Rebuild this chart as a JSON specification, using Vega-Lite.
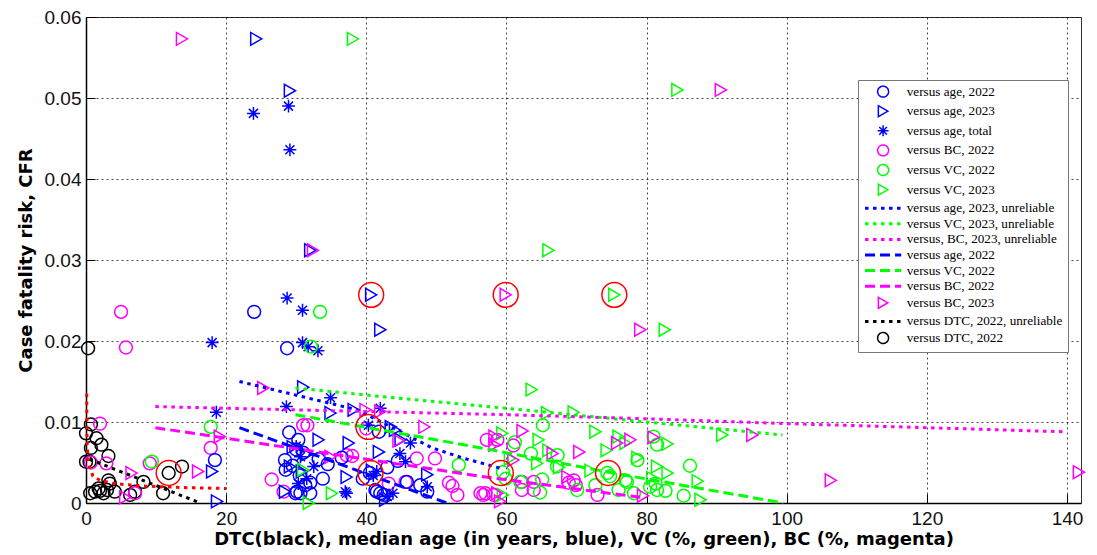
{
  "$schema": "https://vega.github.io/schema/vega-lite/v6.json",
  "width": 995,
  "height": 486,
  "autosize": {"type": "none"},
  "padding": {"left": 86, "top": 17, "right": 16, "bottom": 52},
  "background": "white",
  "config": {
    "view": {"stroke": "#333", "strokeWidth": 1},
    "axis": {
      "grid": true, "gridColor": "#000", "gridDash": [2, 3], "gridWidth": 0.8, "gridOpacity": 0.9,
      "domainColor": "#000", "domainWidth": 1.5,
      "tickColor": "#000", "tickSize": -9, "tickWidth": 1, "labelFlush": false,
      "labelFont": "Liberation Sans", "labelFontSize": 19, "labelColor": "#111",
      "titleFont": "DejaVu Sans", "titleFontWeight": "bold", "titleFontSize": 18, "titleColor": "#000"
    },
    "legend": {
      "orient": "none", "legendX": 772, "legendY": 63,
      "padding": 5, "fillColor": "white", "strokeColor": "#777",
      "labelFont": "Liberation Serif", "labelFontSize": 13.2, "labelColor": "#000", "labelLimit": 300,
      "symbolSize": 120, "symbolStrokeWidth": 1.5, "symbolOffset": 13.5, "labelOffset": 17,
      "rowPadding": 1.6
    }
  },
  "datasets": {
    "pts": [
      {"s": "versus DTC, 2022", "x": 0.3, "y": 0.0191}, {"s": "versus DTC, 2022", "x": 0.7, "y": 0.0097},
      {"s": "versus DTC, 2022", "x": 0.0, "y": 0.0086}, {"s": "versus DTC, 2022", "x": 1.5, "y": 0.0080},
      {"s": "versus DTC, 2022", "x": 2.2, "y": 0.0072}, {"s": "versus DTC, 2022", "x": 0.7, "y": 0.0068},
      {"s": "versus DTC, 2022", "x": 3.2, "y": 0.0058}, {"s": "versus DTC, 2022", "x": 0.0, "y": 0.0051},
      {"s": "versus DTC, 2022", "x": 0.5, "y": 0.0051}, {"s": "versus DTC, 2022", "x": 3.4, "y": 0.0024},
      {"s": "versus DTC, 2022", "x": 0.6, "y": 0.0012}, {"s": "versus DTC, 2022", "x": 1.3, "y": 0.0014},
      {"s": "versus DTC, 2022", "x": 2.0, "y": 0.0015}, {"s": "versus DTC, 2022", "x": 2.5, "y": 0.0012},
      {"s": "versus DTC, 2022", "x": 3.0, "y": 0.0016}, {"s": "versus DTC, 2022", "x": 4.1, "y": 0.0014},
      {"s": "versus DTC, 2022", "x": 6.3, "y": 0.0010}, {"s": "versus DTC, 2022", "x": 7.0, "y": 0.0014},
      {"s": "versus DTC, 2022", "x": 8.2, "y": 0.0026}, {"s": "versus DTC, 2022", "x": 11.0, "y": 0.0012},
      {"s": "versus DTC, 2022", "x": 11.8, "y": 0.0037}, {"s": "versus DTC, 2022", "x": 13.7, "y": 0.0045},
      {"s": "versus DTC, 2022", "x": 1.8, "y": 0.0018}, {"s": "versus DTC, 2022", "x": 3.2, "y": 0.0028},

      {"s": "versus BC, 2022", "x": 5.0, "y": 0.0236}, {"s": "versus BC, 2022", "x": 5.7, "y": 0.0192},
      {"s": "versus BC, 2022", "x": 2.0, "y": 0.0098}, {"s": "versus BC, 2022", "x": 2.9, "y": 0.0049},
      {"s": "versus BC, 2022", "x": 9.1, "y": 0.0049}, {"s": "versus BC, 2022", "x": 17.8, "y": 0.0068},
      {"s": "versus BC, 2022", "x": 7.0, "y": 0.0012}, {"s": "versus BC, 2022", "x": 0.7, "y": 0.0050},
      {"s": "versus BC, 2022", "x": 26.5, "y": 0.0029}, {"s": "versus BC, 2022", "x": 28.2, "y": 0.0014},
      {"s": "versus BC, 2022", "x": 31.0, "y": 0.0096}, {"s": "versus BC, 2022", "x": 31.6, "y": 0.0096},
      {"s": "versus BC, 2022", "x": 37.2, "y": 0.0059}, {"s": "versus BC, 2022", "x": 38.0, "y": 0.0058},
      {"s": "versus BC, 2022", "x": 47.2, "y": 0.0055}, {"s": "versus BC, 2022", "x": 49.8, "y": 0.0055},
      {"s": "versus BC, 2022", "x": 43.2, "y": 0.0024}, {"s": "versus BC, 2022", "x": 45.6, "y": 0.0026},
      {"s": "versus BC, 2022", "x": 51.8, "y": 0.0025}, {"s": "versus BC, 2022", "x": 52.3, "y": 0.0021},
      {"s": "versus BC, 2022", "x": 53.0, "y": 0.0010}, {"s": "versus BC, 2022", "x": 56.3, "y": 0.0012},
      {"s": "versus BC, 2022", "x": 57.0, "y": 0.0012}, {"s": "versus BC, 2022", "x": 57.2, "y": 0.0078},
      {"s": "versus BC, 2022", "x": 58.7, "y": 0.0078}, {"s": "versus BC, 2022", "x": 61.0, "y": 0.0071},
      {"s": "versus BC, 2022", "x": 62.2, "y": 0.0026}, {"s": "versus BC, 2022", "x": 63.9, "y": 0.0026},
      {"s": "versus BC, 2022", "x": 62.2, "y": 0.0016}, {"s": "versus BC, 2022", "x": 63.9, "y": 0.0016},
      {"s": "versus BC, 2022", "x": 68.9, "y": 0.0025}, {"s": "versus BC, 2022", "x": 69.6, "y": 0.0028},
      {"s": "versus BC, 2022", "x": 69.9, "y": 0.0022}, {"s": "versus BC, 2022", "x": 73.0, "y": 0.0010},
      {"s": "versus BC, 2022", "x": 56.7, "y": 0.0010}, {"s": "versus BC, 2022", "x": 58.2, "y": 0.0010},
      {"s": "versus BC, 2022", "x": 40.0, "y": 0.0092},

      {"s": "versus age, 2022", "x": 24.0, "y": 0.0236}, {"s": "versus age, 2022", "x": 28.7, "y": 0.0191},
      {"s": "versus age, 2022", "x": 18.4, "y": 0.0053}, {"s": "versus age, 2022", "x": 29.0, "y": 0.0087},
      {"s": "versus age, 2022", "x": 30.3, "y": 0.0078}, {"s": "versus age, 2022", "x": 28.4, "y": 0.0053},
      {"s": "versus age, 2022", "x": 28.5, "y": 0.0041}, {"s": "versus age, 2022", "x": 30.1, "y": 0.0014},
      {"s": "versus age, 2022", "x": 29.9, "y": 0.0012}, {"s": "versus age, 2022", "x": 30.6, "y": 0.0012},
      {"s": "versus age, 2022", "x": 31.3, "y": 0.0022}, {"s": "versus age, 2022", "x": 32.0, "y": 0.0025},
      {"s": "versus age, 2022", "x": 32.0, "y": 0.0012}, {"s": "versus age, 2022", "x": 33.2, "y": 0.0054},
      {"s": "versus age, 2022", "x": 41.8, "y": 0.0088}, {"s": "versus age, 2022", "x": 41.3, "y": 0.0016},
      {"s": "versus age, 2022", "x": 42.0, "y": 0.0012}, {"s": "versus age, 2022", "x": 42.5, "y": 0.0010},
      {"s": "versus age, 2022", "x": 45.8, "y": 0.0026}, {"s": "versus age, 2022", "x": 47.7, "y": 0.0022},
      {"s": "versus age, 2022", "x": 48.7, "y": 0.0014}, {"s": "versus age, 2022", "x": 41.5, "y": 0.0014},
      {"s": "versus age, 2022", "x": 31.0, "y": 0.0062}, {"s": "versus age, 2022", "x": 30.0, "y": 0.0066},
      {"s": "versus age, 2022", "x": 34.5, "y": 0.0048}, {"s": "versus age, 2022", "x": 40.5, "y": 0.0037},
      {"s": "versus age, 2022", "x": 39.5, "y": 0.0030}, {"s": "versus age, 2022", "x": 44.5, "y": 0.0052},
      {"s": "versus age, 2022", "x": 43.0, "y": 0.0044}, {"s": "versus age, 2022", "x": 36.5, "y": 0.0056},
      {"s": "versus age, 2022", "x": 33.8, "y": 0.0030}, {"s": "versus age, 2022", "x": 30.5, "y": 0.0034},
      {"s": "versus age, 2022", "x": 29.5, "y": 0.0046},

      {"s": "versus age, 2023", "x": 24.3, "y": 0.0573}, {"s": "versus age, 2023", "x": 29.1, "y": 0.0509},
      {"s": "versus age, 2023", "x": 32.0, "y": 0.0312}, {"s": "versus age, 2023", "x": 40.7, "y": 0.0257},
      {"s": "versus age, 2023", "x": 42.0, "y": 0.0214}, {"s": "versus age, 2023", "x": 18.0, "y": 0.0039},
      {"s": "versus age, 2023", "x": 18.7, "y": 0.0002}, {"s": "versus age, 2023", "x": 31.0, "y": 0.0143},
      {"s": "versus age, 2023", "x": 34.9, "y": 0.0111}, {"s": "versus age, 2023", "x": 33.2, "y": 0.0078},
      {"s": "versus age, 2023", "x": 37.5, "y": 0.0074}, {"s": "versus age, 2023", "x": 38.2, "y": 0.0115},
      {"s": "versus age, 2023", "x": 44.1, "y": 0.0090}, {"s": "versus age, 2023", "x": 41.8, "y": 0.0063},
      {"s": "versus age, 2023", "x": 37.2, "y": 0.0032}, {"s": "versus age, 2023", "x": 29.1, "y": 0.0045},
      {"s": "versus age, 2023", "x": 28.4, "y": 0.0014}, {"s": "versus age, 2023", "x": 42.7, "y": 0.0004},
      {"s": "versus age, 2023", "x": 48.7, "y": 0.0035}, {"s": "versus age, 2023", "x": 44.9, "y": 0.0078},
      {"s": "versus age, 2023", "x": 40.8, "y": 0.0040}, {"s": "versus age, 2023", "x": 43.5, "y": 0.0094},
      {"s": "versus age, 2023", "x": 29.5, "y": 0.0069}, {"s": "versus age, 2023", "x": 31.5, "y": 0.0060},
      {"s": "versus age, 2023", "x": 30.8, "y": 0.0039},

      {"s": "versus age, total", "x": 23.9, "y": 0.0481}, {"s": "versus age, total", "x": 28.9, "y": 0.0490},
      {"s": "versus age, total", "x": 29.1, "y": 0.0436}, {"s": "versus age, total", "x": 28.7, "y": 0.0253},
      {"s": "versus age, total", "x": 30.9, "y": 0.0238}, {"s": "versus age, total", "x": 18.0, "y": 0.0198},
      {"s": "versus age, total", "x": 30.9, "y": 0.0198}, {"s": "versus age, total", "x": 31.7, "y": 0.0193},
      {"s": "versus age, total", "x": 33.1, "y": 0.0188}, {"s": "versus age, total", "x": 18.6, "y": 0.0112},
      {"s": "versus age, total", "x": 28.6, "y": 0.0119}, {"s": "versus age, total", "x": 34.9, "y": 0.0130},
      {"s": "versus age, total", "x": 42.0, "y": 0.0117}, {"s": "versus age, total", "x": 40.3, "y": 0.0096},
      {"s": "versus age, total", "x": 45.6, "y": 0.0051}, {"s": "versus age, total", "x": 46.3, "y": 0.0074},
      {"s": "versus age, total", "x": 30.6, "y": 0.0057}, {"s": "versus age, total", "x": 31.5, "y": 0.0030},
      {"s": "versus age, total", "x": 37.0, "y": 0.0014}, {"s": "versus age, total", "x": 41.5, "y": 0.0039},
      {"s": "versus age, total", "x": 48.7, "y": 0.0020}, {"s": "versus age, total", "x": 43.0, "y": 0.0008},
      {"s": "versus age, total", "x": 30.3, "y": 0.0024}, {"s": "versus age, total", "x": 37.2, "y": 0.0012},
      {"s": "versus age, total", "x": 30.0, "y": 0.0070}, {"s": "versus age, total", "x": 41.0, "y": 0.0034},
      {"s": "versus age, total", "x": 43.8, "y": 0.0012}, {"s": "versus age, total", "x": 32.5, "y": 0.0045},
      {"s": "versus age, total", "x": 44.8, "y": 0.0061},

      {"s": "versus VC, 2022", "x": 33.4, "y": 0.0236}, {"s": "versus VC, 2022", "x": 32.1, "y": 0.0193},
      {"s": "versus VC, 2022", "x": 17.8, "y": 0.0094}, {"s": "versus VC, 2022", "x": 9.4, "y": 0.0051},
      {"s": "versus VC, 2022", "x": 53.2, "y": 0.0047}, {"s": "versus VC, 2022", "x": 65.2, "y": 0.0096},
      {"s": "versus VC, 2022", "x": 61.2, "y": 0.0075}, {"s": "versus VC, 2022", "x": 63.5, "y": 0.0061},
      {"s": "versus VC, 2022", "x": 67.3, "y": 0.0059}, {"s": "versus VC, 2022", "x": 65.1, "y": 0.0029},
      {"s": "versus VC, 2022", "x": 62.0, "y": 0.0026}, {"s": "versus VC, 2022", "x": 64.8, "y": 0.0013},
      {"s": "versus VC, 2022", "x": 70.1, "y": 0.0016}, {"s": "versus VC, 2022", "x": 72.7, "y": 0.0022},
      {"s": "versus VC, 2022", "x": 74.4, "y": 0.0037}, {"s": "versus VC, 2022", "x": 77.0, "y": 0.0028},
      {"s": "versus VC, 2022", "x": 76.0, "y": 0.0016}, {"s": "versus VC, 2022", "x": 78.2, "y": 0.0012},
      {"s": "versus VC, 2022", "x": 81.3, "y": 0.0024}, {"s": "versus VC, 2022", "x": 81.5, "y": 0.0016},
      {"s": "versus VC, 2022", "x": 82.7, "y": 0.0015}, {"s": "versus VC, 2022", "x": 85.3, "y": 0.0009},
      {"s": "versus VC, 2022", "x": 86.2, "y": 0.0046}, {"s": "versus VC, 2022", "x": 81.0, "y": 0.0082},
      {"s": "versus VC, 2022", "x": 81.5, "y": 0.0072}, {"s": "versus VC, 2022", "x": 78.7, "y": 0.0053},
      {"s": "versus VC, 2022", "x": 59.9, "y": 0.0030}, {"s": "versus VC, 2022", "x": 67.2, "y": 0.0045},
      {"s": "versus VC, 2022", "x": 77.2, "y": 0.0026}, {"s": "versus VC, 2022", "x": 59.5, "y": 0.0038},
      {"s": "versus VC, 2022", "x": 74.8, "y": 0.0033}, {"s": "versus VC, 2022", "x": 80.5, "y": 0.0020},

      {"s": "versus VC, 2023", "x": 38.1, "y": 0.0573}, {"s": "versus VC, 2023", "x": 84.4, "y": 0.0510},
      {"s": "versus VC, 2023", "x": 66.0, "y": 0.0312}, {"s": "versus VC, 2023", "x": 75.4, "y": 0.0257},
      {"s": "versus VC, 2023", "x": 82.6, "y": 0.0214}, {"s": "versus VC, 2023", "x": 63.6, "y": 0.0140},
      {"s": "versus VC, 2023", "x": 65.8, "y": 0.0111}, {"s": "versus VC, 2023", "x": 69.6, "y": 0.0112},
      {"s": "versus VC, 2023", "x": 72.7, "y": 0.0088}, {"s": "versus VC, 2023", "x": 59.4, "y": 0.0086},
      {"s": "versus VC, 2023", "x": 64.6, "y": 0.0078}, {"s": "versus VC, 2023", "x": 64.4, "y": 0.0049},
      {"s": "versus VC, 2023", "x": 67.5, "y": 0.0044}, {"s": "versus VC, 2023", "x": 74.3, "y": 0.0065},
      {"s": "versus VC, 2023", "x": 76.0, "y": 0.0082}, {"s": "versus VC, 2023", "x": 77.0, "y": 0.0074},
      {"s": "versus VC, 2023", "x": 78.7, "y": 0.0056}, {"s": "versus VC, 2023", "x": 83.0, "y": 0.0073},
      {"s": "versus VC, 2023", "x": 83.0, "y": 0.0037}, {"s": "versus VC, 2023", "x": 87.3, "y": 0.0027},
      {"s": "versus VC, 2023", "x": 87.7, "y": 0.0004}, {"s": "versus VC, 2023", "x": 80.8, "y": 0.0031},
      {"s": "versus VC, 2023", "x": 90.8, "y": 0.0084}, {"s": "versus VC, 2023", "x": 31.0, "y": 0.0041},
      {"s": "versus VC, 2023", "x": 31.8, "y": 0.0000}, {"s": "versus VC, 2023", "x": 35.1, "y": 0.0012},
      {"s": "versus VC, 2023", "x": 60.5, "y": 0.0055}, {"s": "versus VC, 2023", "x": 66.0, "y": 0.0065},
      {"s": "versus VC, 2023", "x": 72.0, "y": 0.0040}, {"s": "versus VC, 2023", "x": 81.5, "y": 0.0045},
      {"s": "versus VC, 2023", "x": 59.5, "y": 0.0010},

      {"s": "versus BC, 2023", "x": 13.7, "y": 0.0573}, {"s": "versus BC, 2023", "x": 90.6, "y": 0.0510},
      {"s": "versus BC, 2023", "x": 32.4, "y": 0.0312}, {"s": "versus BC, 2023", "x": 59.9, "y": 0.0257},
      {"s": "versus BC, 2023", "x": 79.1, "y": 0.0214}, {"s": "versus BC, 2023", "x": 25.3, "y": 0.0142},
      {"s": "versus BC, 2023", "x": 141.7, "y": 0.0038}, {"s": "versus BC, 2023", "x": 106.3, "y": 0.0028},
      {"s": "versus BC, 2023", "x": 95.1, "y": 0.0084}, {"s": "versus BC, 2023", "x": 6.5, "y": 0.0037},
      {"s": "versus BC, 2023", "x": 5.6, "y": 0.0007}, {"s": "versus BC, 2023", "x": 16.0, "y": 0.0039},
      {"s": "versus BC, 2023", "x": 19.1, "y": 0.0082}, {"s": "versus BC, 2023", "x": 39.9, "y": 0.0115},
      {"s": "versus BC, 2023", "x": 42.0, "y": 0.0113}, {"s": "versus BC, 2023", "x": 48.3, "y": 0.0094},
      {"s": "versus BC, 2023", "x": 44.6, "y": 0.0077}, {"s": "versus BC, 2023", "x": 34.9, "y": 0.0057},
      {"s": "versus BC, 2023", "x": 62.3, "y": 0.0089}, {"s": "versus BC, 2023", "x": 58.3, "y": 0.0082},
      {"s": "versus BC, 2023", "x": 58.3, "y": 0.0072}, {"s": "versus BC, 2023", "x": 66.6, "y": 0.0061},
      {"s": "versus BC, 2023", "x": 70.4, "y": 0.0063}, {"s": "versus BC, 2023", "x": 75.8, "y": 0.0074},
      {"s": "versus BC, 2023", "x": 77.7, "y": 0.0078}, {"s": "versus BC, 2023", "x": 81.0, "y": 0.0081},
      {"s": "versus BC, 2023", "x": 68.7, "y": 0.0032}, {"s": "versus BC, 2023", "x": 79.5, "y": 0.0009},
      {"s": "versus BC, 2023", "x": 59.1, "y": 0.0002}, {"s": "versus BC, 2023", "x": 61.0, "y": 0.0053},
      {"s": "versus BC, 2023", "x": 58.7, "y": 0.0012}
    ],
    "lines": [
      {"s": "versus age, 2023, unreliable", "x": 21.9, "y": 0.0150},
      {"s": "versus age, 2023, unreliable", "x": 38.7, "y": 0.0115},
      {"s": "versus age, 2023, unreliable", "x": 44.0, "y": 0.0092},
      {"s": "versus age, 2023, unreliable", "x": 49.4, "y": 0.0068},
      {"s": "versus age, 2023, unreliable", "x": 54.0, "y": 0.0055},
      {"s": "versus age, 2023, unreliable", "x": 59.1, "y": 0.0043},
      {"s": "versus VC, 2023, unreliable", "x": 29.9, "y": 0.0142},
      {"s": "versus VC, 2023, unreliable", "x": 45.0, "y": 0.0129},
      {"s": "versus VC, 2023, unreliable", "x": 60.0, "y": 0.0117},
      {"s": "versus VC, 2023, unreliable", "x": 80.0, "y": 0.0100},
      {"s": "versus VC, 2023, unreliable", "x": 99.4, "y": 0.0084},
      {"s": "versus, BC, 2023, unreliable", "x": 9.9, "y": 0.0119},
      {"s": "versus, BC, 2023, unreliable", "x": 40.0, "y": 0.0113},
      {"s": "versus, BC, 2023, unreliable", "x": 60.0, "y": 0.0109},
      {"s": "versus, BC, 2023, unreliable", "x": 80.0, "y": 0.0104},
      {"s": "versus, BC, 2023, unreliable", "x": 100.0, "y": 0.0098},
      {"s": "versus, BC, 2023, unreliable", "x": 120.0, "y": 0.0093},
      {"s": "versus, BC, 2023, unreliable", "x": 139.4, "y": 0.0088},
      {"s": "versus age, 2022|fit", "x": 21.9, "y": 0.0093},
      {"s": "versus age, 2022|fit", "x": 51.5, "y": 0.0},
      {"s": "versus VC, 2022|fit", "x": 29.9, "y": 0.0109},
      {"s": "versus VC, 2022|fit", "x": 56.4, "y": 0.0068},
      {"s": "versus VC, 2022|fit", "x": 75.2, "y": 0.0037},
      {"s": "versus VC, 2022|fit", "x": 99.5, "y": 0.0},
      {"s": "versus BC, 2022|fit", "x": 9.9, "y": 0.0093},
      {"s": "versus BC, 2022|fit", "x": 56.3, "y": 0.0033},
      {"s": "versus BC, 2022|fit", "x": 79.1, "y": 0.0007},
      {"s": "versus DTC, 2022, unreliable", "x": 0.5, "y": 0.0054},
      {"s": "versus DTC, 2022, unreliable", "x": 16.3, "y": 0.0}
    ],
    "redcircles": [
      {"x": 11.8, "y": 0.0037}, {"x": 40.7, "y": 0.0257}, {"x": 59.9, "y": 0.0257},
      {"x": 75.4, "y": 0.0257}, {"x": 40.3, "y": 0.0094}, {"x": 40.6, "y": 0.0037},
      {"x": 59.2, "y": 0.0037}, {"x": 74.5, "y": 0.0037}
    ],
    "redline": [
      {"x": 0.1, "y": 0.0135}, {"x": 0.15, "y": 0.0075}, {"x": 0.3, "y": 0.0050},
      {"x": 1.0, "y": 0.0033}, {"x": 2.0, "y": 0.0028}, {"x": 4.0, "y": 0.0024},
      {"x": 8.0, "y": 0.0021}, {"x": 14.0, "y": 0.0019}, {"x": 20.0, "y": 0.0018}
    ]
  },
  "encoding": {
    "x": {
      "field": "x", "type": "quantitative",
      "scale": {"domain": [0, 142], "nice": false, "zero": false},
      "axis": {
        "title": "DTC(black), median age (in years, blue), VC (%, green), BC (%, magenta)",
        "values": [0, 20, 40, 60, 80, 100, 120, 140], "format": "d",
        "labelPadding": 15, "titlePadding": 2
      }
    },
    "y": {
      "field": "y", "type": "quantitative",
      "scale": {"domain": [0, 0.06], "nice": false, "zero": false},
      "axis": {
        "title": "Case fatality risk, CFR",
        "values": [0, 0.01, 0.02, 0.03, 0.04, 0.05, 0.06], "format": ".2~f",
        "labelPadding": 14, "titlePadding": 9
      }
    }
  },
  "layer": [
    {
      "data": {"name": "pts"},
      "mark": {"type": "point", "filled": false, "size": 165, "strokeWidth": 1.5, "opacity": 1},
      "encoding": {
        "color": {
          "field": "s", "type": "nominal",
          "scale": {
            "domain": ["versus age, 2022", "versus age, 2023", "versus age, total", "versus BC, 2022", "versus VC, 2022", "versus VC, 2023", "versus age, 2023, unreliable", "versus VC, 2023, unreliable", "versus, BC, 2023, unreliable", "versus age, 2022|fit", "versus VC, 2022|fit", "versus BC, 2022|fit", "versus BC, 2023", "versus DTC, 2022, unreliable", "versus DTC, 2022"],
            "range": ["#0000ff", "#0000ff", "#0000ff", "#ff00ff", "#00ff00", "#00ff00", "#0000ff", "#00ff00", "#ff00ff", "#0000ff", "#00ff00", "#ff00ff", "#ff00ff", "#000000", "#000000"]
          },
          "legend": {
            "title": null, "labelExpr": "split(datum.label, '|')[0]",
            "encode": {"symbols": {"update": {"strokeWidth": {"signal": "indexof('' + datum.value, 'unreliable') >= 0 || indexof('' + datum.value, '|') >= 0 ? 3 : 1.5"}}}}
          }
        },
        "shape": {
          "field": "s", "type": "nominal",
          "scale": {
            "domain": ["versus age, 2022", "versus age, 2023", "versus age, total", "versus BC, 2022", "versus VC, 2022", "versus VC, 2023", "versus age, 2023, unreliable", "versus VC, 2023, unreliable", "versus, BC, 2023, unreliable", "versus age, 2022|fit", "versus VC, 2022|fit", "versus BC, 2022|fit", "versus BC, 2023", "versus DTC, 2022, unreliable", "versus DTC, 2022"],
            "range": ["circle", "triangle-right", "M0,-1L0,1M-1,0L1,0M-0.7,-0.7L0.7,0.7M-0.7,0.7L0.7,-0.7", "circle", "circle", "triangle-right", "M-3.3,0L3.3,0", "M-3.3,0L3.3,0", "M-3.3,0L3.3,0", "M-3.3,0L3.3,0", "M-3.3,0L3.3,0", "M-3.3,0L3.3,0", "triangle-right", "M-3.3,0L3.3,0", "circle"]
          },
          "legend": {
            "title": null, "labelExpr": "split(datum.label, '|')[0]",
            "encode": {"symbols": {"update": {"strokeWidth": {"signal": "indexof('' + datum.value, 'unreliable') >= 0 || indexof('' + datum.value, '|') >= 0 ? 3 : 1.5"}}}}
          }
        }
      }
    },
    {
      "data": {"name": "lines"},
      "mark": {"type": "line", "strokeWidth": 3},
      "encoding": {
        "color": {"field": "s", "type": "nominal"},
        "strokeDash": {
          "field": "s", "type": "nominal",
          "scale": {
            "domain": ["versus age, 2022", "versus age, 2023", "versus age, total", "versus BC, 2022", "versus VC, 2022", "versus VC, 2023", "versus age, 2023, unreliable", "versus VC, 2023, unreliable", "versus, BC, 2023, unreliable", "versus age, 2022|fit", "versus VC, 2022|fit", "versus BC, 2022|fit", "versus BC, 2023", "versus DTC, 2022, unreliable", "versus DTC, 2022"],
            "range": [[1, 0], [1, 0], [1, 0], [1, 0], [1, 0], [1, 0], [3.5, 4.5], [3.5, 4.5], [3.5, 4.5], [10, 5], [10, 5], [10, 5], [1, 0], [3.5, 4.5], [1, 0]]
          },
          "legend": {
            "title": null, "labelExpr": "split(datum.label, '|')[0]",
            "encode": {"symbols": {"update": {"strokeWidth": {"signal": "indexof('' + datum.value, 'unreliable') >= 0 || indexof('' + datum.value, '|') >= 0 ? 3 : 1.5"}}}}
          }
        }
      }
    },
    {
      "data": {"name": "redline"},
      "mark": {"type": "line", "strokeWidth": 3, "color": "#ff0000", "strokeDash": [3.5, 4.5]},
      "encoding": {}
    },
    {
      "data": {"name": "redcircles"},
      "mark": {"type": "point", "filled": false, "size": 620, "strokeWidth": 1.5, "color": "#ff0000", "opacity": 1},
      "encoding": {}
    }
  ]
}
